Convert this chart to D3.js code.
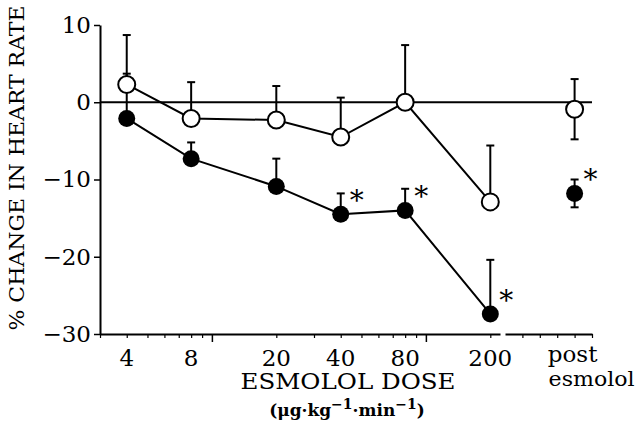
<!DOCTYPE html>
<html>
<head>
<meta charset="utf-8">
<script src="https://cdn.jsdelivr.net/npm/d3@7"></script>
<style>
  body { margin: 0; background: #fff; }
  svg text { font-family: "DejaVu Serif", "Liberation Serif", serif; fill: #000; }
</style>
</head>
<body>
<svg id="chart" width="642" height="425"></svg>
<script>
// esmolol doses (ug/kg/min), log spaced on the axis
const doses = [4, 8, 20, 40, 80, 200];
const doseLabels = ["4", "8", "20", "40", "80", "200"];

// open circles
const openMean  = [2.3, -2.1, -2.3, -4.5, 0.0, -12.9];
const openUpper = [8.7, 2.6, 2.1, 0.6, 7.4, -5.6];

// filled circles
const filledMean  = [-2.1, -7.3, -10.9, -14.5, -14.0, -27.4];
const filledUpper = [3.7, -5.2, -7.3, -11.8, -11.2, -20.4];
const filledSig   = [false, false, false, true, true, true];

// post esmolol values: [mean, lower, upper]
const postOpen   = [-0.9, -4.8, 3.0];
const postFilled = [-11.8, -13.6, -10.0];

const yTicks = [10, 0, -10, -20, -30];
const minorTicks = [3, 5, 6, 7, 9, 30, 50, 60, 70, 90];
const labelledTicks = [4, 8, 20, 40, 80, 200];
const majorTicks = [10, 100];

const svg = d3.select("#chart");
const m = {left: 100, right: 592, top: 25, bottom: 334, breakL: 500, breakR: 505};

const x = d3.scaleLog().domain([3, 222]).range([m.left, m.breakL]);
const xPost = d3.scaleLinear().domain([0, 1]).range([m.breakR, m.right]);
const postPos = 0.8;
const y = d3.scaleLinear().domain([-30, 10]).range([m.bottom, m.top]);

// y axis
const yAxis = svg.append("g")
    .attr("transform", `translate(${m.left},0)`)
    .call(d3.axisLeft(y).tickValues(yTicks).tickSize(6).tickSizeOuter(0).tickPadding(3));
yAxis.select(".domain").attr("stroke-width", 2);
yAxis.selectAll(".tick line").attr("stroke-width", 1.5);
yAxis.selectAll(".tick text").style("font-size", "23px");

// x axis, log part
const xAxis = svg.append("g")
    .attr("transform", `translate(0,${m.bottom})`)
    .call(d3.axisBottom(x).tickValues(minorTicks.concat(labelledTicks)).tickSize(4).tickSizeOuter(0).tickFormat(""));
xAxis.select(".domain").attr("stroke-width", 2);
xAxis.selectAll(".tick line").attr("stroke-width", 1.2);

svg.append("g")
    .attr("transform", `translate(0,${m.bottom})`)
    .call(d3.axisBottom(x).tickValues(majorTicks).tickSize(8).tickSizeOuter(0).tickFormat(""))
    .call(g => g.select(".domain").remove())
    .selectAll(".tick line").attr("stroke-width", 1.5);

// x axis, post part
const xAxis2 = svg.append("g")
    .attr("transform", `translate(0,${m.bottom})`)
    .call(d3.axisBottom(xPost).tickValues([0.2, 0.4, 0.6, 0.8, 1]).tickSize(4).tickSizeOuter(0).tickFormat(""));
xAxis2.select(".domain").attr("stroke-width", 2);
xAxis2.selectAll(".tick line").attr("stroke-width", 1.2);

// dose labels
svg.append("g").selectAll("text")
    .data(doses)
    .join("text")
    .attr("x", d => x(d))
    .attr("y", 366)
    .attr("text-anchor", "middle")
    .style("font-size", "23px")
    .text((d, i) => doseLabels[i]);

svg.append("text")
    .attr("x", xPost(postPos) - 2).attr("y", 362)
    .attr("text-anchor", "middle")
    .style("font-size", "23px")
    .text("post");
svg.append("text")
    .attr("x", xPost(postPos) + 17).attr("y", 386)
    .attr("text-anchor", "middle")
    .attr("textLength", 86).attr("lengthAdjust", "spacingAndGlyphs")
    .style("font-size", "20px")
    .text("esmolol");

// axis titles
svg.append("text")
    .attr("x", 348).attr("y", 389)
    .attr("text-anchor", "middle")
    .attr("textLength", 215).attr("lengthAdjust", "spacingAndGlyphs")
    .style("font-size", "22px")
    .text("ESMOLOL DOSE");

const units = svg.append("text")
    .attr("x", 347).attr("y", 416)
    .attr("text-anchor", "middle")
    .style("font-size", "17px")
    .style("font-weight", "bold");
units.append("tspan").text("(μg·kg");
units.append("tspan").attr("dy", -7).style("font-size", "14px").text("−1");
units.append("tspan").attr("dy", 7).text("·min");
units.append("tspan").attr("dy", -7).style("font-size", "14px").text("−1");
units.append("tspan").attr("dy", 7).text(")");

svg.append("text")
    .attr("transform", "translate(24,168) rotate(-90)")
    .attr("text-anchor", "middle")
    .attr("textLength", 325).attr("lengthAdjust", "spacingAndGlyphs")
    .style("font-size", "20px")
    .text("% CHANGE IN HEART RATE");

// zero line
svg.append("line")
    .attr("x1", m.left).attr("x2", m.right)
    .attr("y1", y(0)).attr("y2", y(0))
    .attr("stroke", "#000").attr("stroke-width", 2);

const capW = 4;
function errBar(g, cx, y1, y2) {
    g.append("line").attr("x1", cx).attr("x2", cx).attr("y1", y(y1)).attr("y2", y(y2))
        .attr("stroke", "#000").attr("stroke-width", 2);
    g.append("line").attr("x1", cx - capW).attr("x2", cx + capW).attr("y1", y(y2)).attr("y2", y(y2))
        .attr("stroke", "#000").attr("stroke-width", 2);
}

const bars = svg.append("g");
doses.forEach((d, i) => {
    errBar(bars, x(d), filledMean[i], filledUpper[i]);
    errBar(bars, x(d), openMean[i], openUpper[i]);
});
errBar(bars, xPost(postPos), postOpen[0], postOpen[2]);
errBar(bars, xPost(postPos), postOpen[0], postOpen[1]);
errBar(bars, xPost(postPos), postFilled[0], postFilled[2]);
errBar(bars, xPost(postPos), postFilled[0], postFilled[1]);

// connecting lines
const line = d3.line().x(d => x(d[0])).y(d => y(d[1]));
svg.append("path")
    .datum(doses.map((d, i) => [d, filledMean[i]]))
    .attr("d", line).attr("fill", "none").attr("stroke", "#000").attr("stroke-width", 2);
svg.append("path")
    .datum(doses.map((d, i) => [d, openMean[i]]))
    .attr("d", line).attr("fill", "none").attr("stroke", "#000").attr("stroke-width", 2);

// markers
const r = 8.5;
svg.append("g").selectAll("circle")
    .data(doses)
    .join("circle")
    .attr("cx", d => x(d))
    .attr("cy", (d, i) => y(filledMean[i]))
    .attr("r", r).attr("fill", "#000");
svg.append("g").selectAll("circle")
    .data(doses)
    .join("circle")
    .attr("cx", d => x(d))
    .attr("cy", (d, i) => y(openMean[i]))
    .attr("r", r).attr("fill", "#fff").attr("stroke", "#000").attr("stroke-width", 2);

svg.append("circle")
    .attr("cx", xPost(postPos)).attr("cy", y(postFilled[0]))
    .attr("r", r).attr("fill", "#000");
svg.append("circle")
    .attr("cx", xPost(postPos)).attr("cy", y(postOpen[0]))
    .attr("r", r).attr("fill", "#fff").attr("stroke", "#000").attr("stroke-width", 2);

// significance stars
svg.append("g").selectAll("text")
    .data(doses.filter((d, i) => filledSig[i]))
    .join("text")
    .attr("x", d => x(d) + 16)
    .attr("y", d => y(filledMean[doses.indexOf(d)]) - 4)
    .attr("text-anchor", "middle")
    .style("font-size", "28px")
    .text("*");
svg.append("text")
    .attr("x", xPost(postPos) + 16)
    .attr("y", y(postFilled[0]) - 4)
    .attr("text-anchor", "middle")
    .style("font-size", "28px")
    .text("*");
</script>
</body>
</html>
